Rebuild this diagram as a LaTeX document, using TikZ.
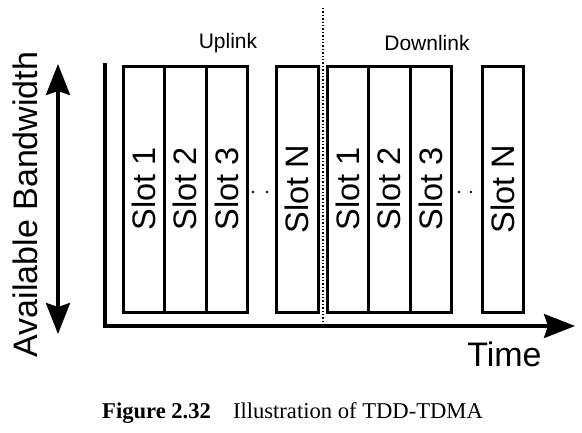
\documentclass[tikz,border=0pt]{standalone}
\usepackage{fontspec}
\setmainfont{Liberation Sans}
\newfontfamily\capfont{Liberation Serif}
\usetikzlibrary{arrows.meta}
\begin{document}
\begin{tikzpicture}[x=1pt,y=-1pt,
  slotbox/.style={draw,line width=3pt,rotate=90,minimum width=246pt,minimum height=41.5pt,inner sep=0pt,
    font=\fontsize{32.5}{36}\selectfont},
  biglabel/.style={inner sep=0pt,font=\fontsize{34}{38}\selectfont},
  linklabel/.style={inner sep=0pt,font=\fontsize{21}{24}\selectfont},
  tip/.style={-{Stealth[length=31pt,width=24pt,inset=4pt]}},
  dotmark/.style={fill=black,circle,inner sep=0pt,minimum size=2.8pt}]
\useasboundingbox (0,0) rectangle (582,432);
% uplink slots
\node[slotbox] (u1) at (143.75,189) {Slot 1};
\node[slotbox] (u2) at (185.25,189) {Slot 2};
\node[slotbox] (u3) at (226.75,189) {Slot 3};
\node[slotbox] (uN) at (297.25,189) {Slot N};
% downlink slots
\node[slotbox] (d1) at (347.75,189) {Slot 1};
\node[slotbox] (d2) at (389.25,189) {Slot 2};
\node[slotbox] (d3) at (430.75,189) {Slot 3};
\node[slotbox] (dN) at (502.75,189) {Slot N};
% ellipsis dots
\node[dotmark] (ua) at (253,192) {};
\node[dotmark] (ub) at (267,192) {};
\node[dotmark] (da) at (459,192) {};
\node[dotmark] (db) at (471,192) {};
% labels
\node[linklabel] (ul) at (228,43) {Uplink};
\node[linklabel] (dl) at (427,43) {Downlink};
% axes
\coordinate (ytop) at (105,63);
\coordinate (orig) at (105,326);
\coordinate (xend) at (575,326);
\draw[line width=3.3pt,tip] (ytop) -- (orig) -- (xend);
\node[biglabel] (time) at (504.5,354.5) {Time};
% divider
\coordinate (dvt) at (323,8);
\coordinate (dvb) at (323,326);
\draw[line width=1.4pt,dotted] (dvt) -- (dvb);
% bandwidth arrow
\coordinate (bwt) at (58,64);
\coordinate (bwb) at (58,334);
\draw[line width=3.3pt,{Stealth[length=31pt,width=24pt,inset=4pt]}-{Stealth[length=31pt,width=24pt,inset=4pt]}] (bwb) -- (bwt);
\node[biglabel,rotate=90] (bw) at (25,204.5) {Available Bandwidth};
% caption
\node[anchor=base west,inner sep=0pt,font=\capfont\fontsize{22.6}{26}\selectfont] (cap) at (102,418)
  {\textbf{Figure 2.32}\hspace{22pt}Illustration of TDD-TDMA};
\end{tikzpicture}
\end{document}
